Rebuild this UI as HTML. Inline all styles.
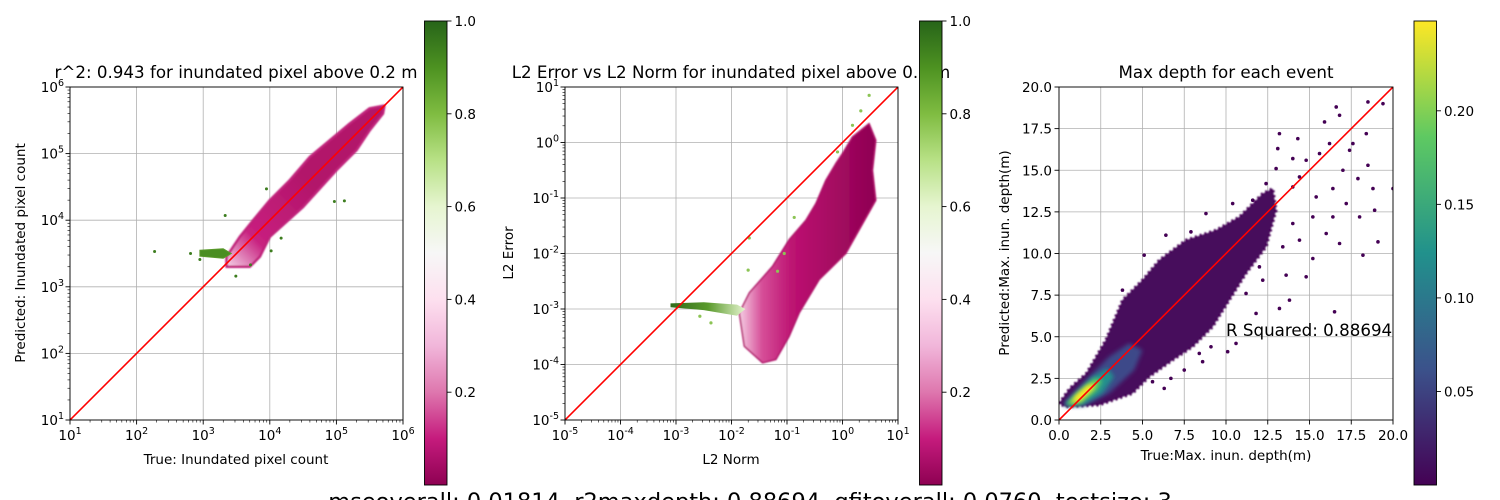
<!DOCTYPE html>
<html><head><meta charset="utf-8">
<style>
html,body{margin:0;padding:0;background:#fff;}
svg{display:block;font-family:"DejaVu Sans","Liberation Sans",sans-serif;}
</style></head>
<body>
<svg id="fig" width="1500" height="500" viewBox="0 0 1500 500" xmlns="http://www.w3.org/2000/svg">
<defs>
<linearGradient id="piyg" x1="0" y1="1" x2="0" y2="0">
<stop offset="0" stop-color="#8e0152"/><stop offset="0.1" stop-color="#c51b7d"/><stop offset="0.2" stop-color="#de77ae"/><stop offset="0.3" stop-color="#f1b6da"/><stop offset="0.4" stop-color="#fde0ef"/><stop offset="0.5" stop-color="#f7f7f7"/><stop offset="0.6" stop-color="#e6f5d0"/><stop offset="0.7" stop-color="#b8e186"/><stop offset="0.8" stop-color="#7fbc41"/><stop offset="0.9" stop-color="#4d9221"/><stop offset="1" stop-color="#276419"/>
</linearGradient>
<linearGradient id="viridis" x1="0" y1="1" x2="0" y2="0">
<stop offset="0" stop-color="#440154"/><stop offset="0.25" stop-color="#3b528b"/><stop offset="0.5" stop-color="#21918c"/><stop offset="0.75" stop-color="#5ec962"/><stop offset="1" stop-color="#fde725"/>
</linearGradient>
<filter id="blur2" x="-20%" y="-20%" width="140%" height="140%"><feGaussianBlur stdDeviation="2"/></filter>
<filter id="blur1" x="-20%" y="-20%" width="140%" height="140%"><feGaussianBlur stdDeviation="0.8"/></filter>
<clipPath id="c1"><rect x="70" y="87" width="333" height="333"/></clipPath>
<clipPath id="c2"><rect x="565" y="87" width="333" height="333"/></clipPath>
<clipPath id="c3"><rect x="1059" y="87" width="334" height="333"/></clipPath>
</defs>
</svg>
<script>
// ---------- data (log10 coords for panels 1-2, data units for panel 3) ----------
const cloud1 = [[3.35,3.3],[3.7,3.3],[3.85,3.45],[4.0,3.75],[4.5,4.2],[5.0,4.75],[5.3,5.05],[5.5,5.35],[5.7,5.6],[5.72,5.72],[5.5,5.68],[5.2,5.45],[4.9,5.2],[4.6,4.95],[4.3,4.6],[4.0,4.3],[3.75,4.0],[3.55,3.75],[3.35,3.45]];
const tail1 = [[2.95,3.55],[3.3,3.57],[3.42,3.5],[3.3,3.43],[2.95,3.46]];
const outliers1X = [2.27,2.81,2.95,3.33,3.95,4.97,5.12,4.17,4.02,3.71,3.49];
const outliers1Y = [3.53,3.5,3.41,4.07,4.47,4.28,4.29,3.73,3.54,3.33,3.16];
const cloud2 = [[-1.44,-3.97],[-1.77,-3.67],[-1.86,-3.07],[-1.68,-2.71],[-1.26,-2.23],[-0.96,-1.75],[-0.66,-1.4],[-0.48,-1.1],[-0.3,-0.68],[-0.12,-0.38],[0,-0.2],[0.18,0.1],[0.48,0.34],[0.6,0.04],[0.54,-0.5],[0.6,-1.04],[0.06,-2.0],[-0.42,-2.47],[-0.78,-3.07],[-0.96,-3.49],[-1.2,-3.91]];
const tail2 = [[-3.1,-2.9],[-2.5,-2.88],[-1.9,-2.92],[-1.75,-3.0],[-1.9,-3.12],[-2.5,-3.02],[-3.1,-2.97]];
const outliers2X = [0.48,0.33,0.18,-0.09,-0.87,-1.05,-1.68,-1.7,-1.17,-2.57,-2.37];
const outliers2Y = [0.85,0.57,0.31,-0.17,-1.35,-2.0,-1.72,-2.3,-2.32,-3.13,-3.25];
const cloud3 = [[0,1.0],[0.64,1.9],[1.64,2.8],[2.8,4.8],[3.8,7.2],[5.0,8.4],[6.0,9.6],[7.6,10.8],[9.4,11.4],[10.8,12.2],[12.2,13.6],[12.8,13.9],[13,12.6],[12.4,10.4],[11.2,8.8],[10.2,7.2],[9.2,5.6],[8.0,4.4],[6.8,3.6],[5.4,2.6],[4.4,1.6],[2.4,0.9],[0.4,0.8]];
const level3a = [[0.3,0.85],[1.5,0.85],[3,1.6],[4.5,3.0],[5,4.2],[4.2,4.6],[3,3.8],[1.8,2.6],[0.8,1.6],[0.3,1.0]];
const level3b = [[0.4,0.85],[1.4,0.9],[2.6,1.6],[3.3,2.6],[2.9,3.1],[2.0,2.6],[1.0,1.6],[0.4,1.0]];
const level3c = [[0.5,0.9],[1.3,1.0],[2.3,1.8],[2.6,2.4],[2.1,2.5],[1.2,1.7],[0.5,1.05]];
const level3d = [[0.7,1.0],[1.3,1.15],[2.0,1.8],[2.2,2.2],[1.7,2.1],[1.0,1.5]];
const scatter3X = [16.6,16.8,18.5,19.4,18.4,15.9,13.2,14.3,13.1,14.0,14.8,13.0,17.9,18.8,18.5,17.0,16.4,14.0,15.4,17.2,18.9,18.0,16.4,15.2,14.0,16.0,19.1,16.8,15.2,18.2,14.8,13.6,16.5,13.8,13.2,11.8,10.6,10.1,9.1,8.4,8.6,7.5,6.7,6.3,5.6,20,14.4,15.6,16.2,17.6,17.4,11.6,12.4,10.4,8.8,7.9,6.4,5.1,3.8,11.2,12.2,14.4,13.4,12.0,10.8];
const scatter3Y = [18.8,18.3,19.1,19.0,17.2,17.9,17.2,16.9,16.3,15.7,15.6,15.1,14.5,13.9,15.3,15.0,13.9,14.0,13.4,13.0,12.6,12.2,12.2,12.2,11.8,11.2,10.7,10.6,9.7,9.9,8.6,8.7,6.5,7.2,6.7,6.4,4.6,4.1,4.4,4.0,3.5,3.0,2.5,1.9,2.3,13.9,14.6,16.0,16.6,16.6,16.2,13.2,14.2,13.0,12.4,11.3,11.1,9.9,7.8,7.6,8.4,10.8,10.4,9.2,8.8];
const logTicks1 = [1,2,3,4,5,6];
const logTicks2 = [-5,-4,-3,-2,-1,0,1];
const linTicks3 = [0,2.5,5,7.5,10,12.5,15,17.5,20];
const cbTicks1 = [0.2,0.4,0.6,0.8,1.0];
const cbTicks3 = [0.05,0.10,0.15,0.20];

// ---------- helpers ----------
const NS="http://www.w3.org/2000/svg";
const svg=document.getElementById('fig');
function mk(tag,attrs,parent){const e=document.createElementNS(NS,tag);for(const k in attrs)e.setAttribute(k,attrs[k]);(parent||svg).appendChild(e);return e;}
function axis(x0,x1,y0,y1,xmin,xmax,ymin,ymax){
  return {sx:v=>x0+(v-xmin)/(xmax-xmin)*(x1-x0), sy:v=>y1-(v-ymin)/(ymax-ymin)*(y1-y0), x0,x1,y0,y1};
}
function polyStr(ax,arr){return arr.map(p=>ax.sx(p[0]).toFixed(1)+','+ax.sy(p[1]).toFixed(1)).join(' ');}

function drawGrid(ax,xt,yt,g){
  xt.forEach(v=>{const x=ax.sx(v);
    const gl=mk('line',{x1:x,x2:x,y1:ax.y0,y2:ax.y1,stroke:'#b0b0b0','stroke-width':0.8},g);
    
  });
  yt.forEach(v=>{const y=ax.sy(v);
    const gl=mk('line',{x1:ax.x0,x2:ax.x1,y1:y,y2:y,stroke:'#b0b0b0','stroke-width':0.8},g);
    
  });
}
function drawFrameTicks(ax,xt,yt,isLog,g){
  const fr=mk('rect',{x:ax.x0,y:ax.y0,width:ax.x1-ax.x0,height:ax.y1-ax.y0,fill:'none',stroke:'#000','stroke-width':0.9},g);
  
  xt.forEach(v=>{const x=ax.sx(v);mk('line',{x1:x,x2:x,y1:ax.y1,y2:ax.y1+4.5,stroke:'#000','stroke-width':0.9},g);
    const t=mk('text',{x:x,y:ax.y1+20,'font-size':13.5,'text-anchor':'middle',fill:'#000'},g);
    
    if(isLog){t.appendChild(document.createTextNode('10'));const s=mk('tspan',{'font-size':9.5,dy:-6},t);s.textContent=String(v);}
    else t.textContent=v.toFixed(1);
  });
  yt.forEach(v=>{const y=ax.sy(v);mk('line',{x1:ax.x0-4.5,x2:ax.x0,y1:y,y2:y,stroke:'#000','stroke-width':0.9},g);
    const t=mk('text',{x:ax.x0-7,y:y+5,'font-size':13.5,'text-anchor':'end',fill:'#000'},g);
    
    if(isLog){t.appendChild(document.createTextNode('10'));const s=mk('tspan',{'font-size':9.5,dy:-6},t);s.textContent=String(v);t.setAttribute('x',ax.x0-6);}
    else t.textContent=v.toFixed(1);
  });
  if(isLog){
    for(let i=0;i<xt.length-1;i++)for(let k=2;k<=9;k++){const v=xt[i]+Math.log10(k);
      const x=ax.sx(v);mk('line',{x1:x,x2:x,y1:ax.y1,y2:ax.y1+2.5,stroke:'#000','stroke-width':0.6},g);}
    for(let i=0;i<yt.length-1;i++)for(let k=2;k<=9;k++){const v=yt[i]+Math.log10(k);
      const y=ax.sy(v);mk('line',{x1:ax.x0-2.5,x2:ax.x0,y1:y,y2:y,stroke:'#000','stroke-width':0.6},g);}
  }
}
function label(x,y,txt,size,rot,name,anchor){
  const t=mk('text',{x:x,y:y,'font-size':size,'text-anchor':anchor||'middle',fill:'#000'});
  if(rot)t.setAttribute('transform','rotate(-90 '+x+' '+y+')');
  t.textContent=txt;return t;
}
function dots(ax,xs,ys,r,color,g,name){
  xs.forEach((v,i)=>{const c=mk('circle',{cx:ax.sx(v),cy:ax.sy(ys[i]),r:r,fill:color},g);
    });
}
function colorbar(x,y0,y1,grad,ticks,vmin,vmax,fmt,name){
  const g=mk('g',{});
  mk('rect',{x:x,y:y0,width:22.5,height:y1-y0,fill:'url(#'+grad+')',stroke:'#000','stroke-width':0.9},g);
  ticks.forEach(v=>{const y=y1-(v-vmin)/(vmax-vmin)*(y1-y0);
    mk('line',{x1:x+22.5,x2:x+27,y1:y,y2:y,stroke:'#000','stroke-width':0.9},g);
    const t=mk('text',{x:x+30,y:y+5,'font-size':13.5,fill:'#000'},g);t.textContent=fmt(v);
    });
}

// ================= Panel 1 =================
const ax1=axis(70,403,87,420,1,6,1,6);
const g1=mk('g',{});
drawGrid(ax1,logTicks1,logTicks1,g1);
const d1=mk('g',{'clip-path':'url(#c1)'},g1);
{const gr=mk('linearGradient',{id:'g1c',gradientUnits:'userSpaceOnUse',x1:ax1.sx(3.3),y1:ax1.sy(3.3),x2:ax1.sx(4.6),y2:ax1.sy(4.6)},svg.querySelector('defs'));
 mk('stop',{offset:0,'stop-color':'#f6dced'},gr);mk('stop',{offset:0.35,'stop-color':'#c8207f'},gr);mk('stop',{offset:1,'stop-color':'#b2156a'},gr);}
const p1=mk('polygon',{points:polyStr(ax1,cloud1),fill:'url(#g1c)',stroke:'#c0207a','stroke-width':2.5,'stroke-linejoin':'round',filter:'url(#blur1)'},d1);

const t1=mk('polygon',{points:polyStr(ax1,tail1),fill:'#4a8e22',stroke:'#5a9a2c','stroke-width':1},d1);

dots(ax1,outliers1X,outliers1Y,1.5,'#3d7d1f',d1,'outlier-point');
const r1=mk('line',{x1:ax1.sx(1),y1:ax1.sy(1),x2:ax1.sx(6),y2:ax1.sy(6),stroke:'#ff0000','stroke-width':1.6},d1);

drawFrameTicks(ax1,logTicks1,logTicks1,true,g1);
label(236,78,'r^2: 0.943 for inundated pixel above 0.2 m',16.7,false,'panel1-title');
label(236,464,'True: Inundated pixel count',13.5,false,'x-axis-title');
label(25,253,'Predicted: Inundated pixel count',13.5,true,'y-axis-title');
colorbar(424.5,21,485,'piyg',cbTicks1,0.0,1.0,v=>v.toFixed(1),'colorbar-piyg-1');

// ================= Panel 2 =================
const ax2=axis(565,898,87,420,-5,1,-5,1);
const g2=mk('g',{});
drawGrid(ax2,logTicks2,logTicks2,g2);
const d2=mk('g',{'clip-path':'url(#c2)'},g2);
{const gr=mk('linearGradient',{id:'g2c',gradientUnits:'userSpaceOnUse',x1:ax2.sx(-1.9),y1:0,x2:ax2.sx(0.6),y2:0},svg.querySelector('defs'));
 mk('stop',{offset:0,'stop-color':'#f8dbeb'},gr);mk('stop',{offset:0.18,'stop-color':'#d64e98'},gr);mk('stop',{offset:0.4,'stop-color':'#bc1271'},gr);mk('stop',{offset:1,'stop-color':'#8e0152'},gr);}
const p2=mk('polygon',{points:polyStr(ax2,cloud2),fill:'url(#g2c)',stroke:'#b0156a','stroke-width':1.5,'stroke-linejoin':'round',filter:'url(#blur1)'},d2);

{const gr=mk('linearGradient',{id:'g2t',gradientUnits:'userSpaceOnUse',x1:ax2.sx(-3.1),y1:0,x2:ax2.sx(-1.75),y2:0},svg.querySelector('defs'));
 mk('stop',{offset:0,'stop-color':'#2f6b1a'},gr);mk('stop',{offset:0.5,'stop-color':'#5a9a2c'},gr);mk('stop',{offset:1,'stop-color':'#e6f5d0'},gr);}
const t2=mk('polygon',{points:polyStr(ax2,tail2),fill:'url(#g2t)'},d2);

dots(ax2,outliers2X,outliers2Y,1.6,'#8cc455',d2,'outlier-point');
const r2=mk('line',{x1:ax2.sx(-5),y1:ax2.sy(-5),x2:ax2.sx(1),y2:ax2.sy(1),stroke:'#ff0000','stroke-width':1.6},d2);

drawFrameTicks(ax2,logTicks2,logTicks2,true,g2);
label(731,78,'L2 Error vs L2 Norm for inundated pixel above 0.2 m',16.7,false,'panel2-title');
label(731,464,'L2 Norm',13.5,false,'x-axis-title');
label(513,253,'L2 Error',13.5,true,'y-axis-title');
colorbar(919.5,21,485,'piyg',cbTicks1,0.0,1.0,v=>v.toFixed(1),'colorbar-piyg-2');

// ================= Panel 3 =================
const ax3=axis(1059,1393,87,420,0,20,0,20);
const g3=mk('g',{});
drawGrid(ax3,linTicks3,linTicks3,g3);
const d3=mk('g',{'clip-path':'url(#c3)'},g3);
dots(ax3,scatter3X,scatter3Y,1.8,'#440154',d3,'scatter-point');
const p3=mk('polygon',{points:polyStr(ax3,cloud3),fill:'#46085c',stroke:'#440154','stroke-width':3,'stroke-linejoin':'round','stroke-dasharray':'2 3',filter:'url(#blur1)'},d3);

[[level3a,'#3e4a89'],[level3b,'#21908d'],[level3c,'#5ec962'],[level3d,'#fde725']].forEach(l=>{
  const p=mk('polygon',{points:polyStr(ax3,l[0]),fill:l[1],filter:'url(#blur2)'},d3);
  });
const r3=mk('line',{x1:ax3.sx(0),y1:ax3.sy(0),x2:ax3.sx(20),y2:ax3.sy(20),stroke:'#ff0000','stroke-width':1.6},d3);

drawFrameTicks(ax3,linTicks3,linTicks3,false,g3);
label(1226,78,'Max depth for each event',16.7,false,'panel3-title');
label(1226,460,'True:Max. inun. depth(m)',13.5,false,'x-axis-title');
label(1009,253,'Predicted:Max. inun. depth(m)',13.5,true,'y-axis-title');
label(1226,336,'R Squared: 0.88694',16.7,false,'r-squared-annotation','start');
colorbar(1414,21,485,'viridis',cbTicks3,0.0,0.248,v=>v.toFixed(2),'colorbar-viridis');

// bottom summary
label(750,509,'mseoverall: 0.01814, r2maxdepth: 0.88694, gfitoverall: 0.0760, testsize: 3',22.5,false,'summary-text');
</script>
</body></html>
